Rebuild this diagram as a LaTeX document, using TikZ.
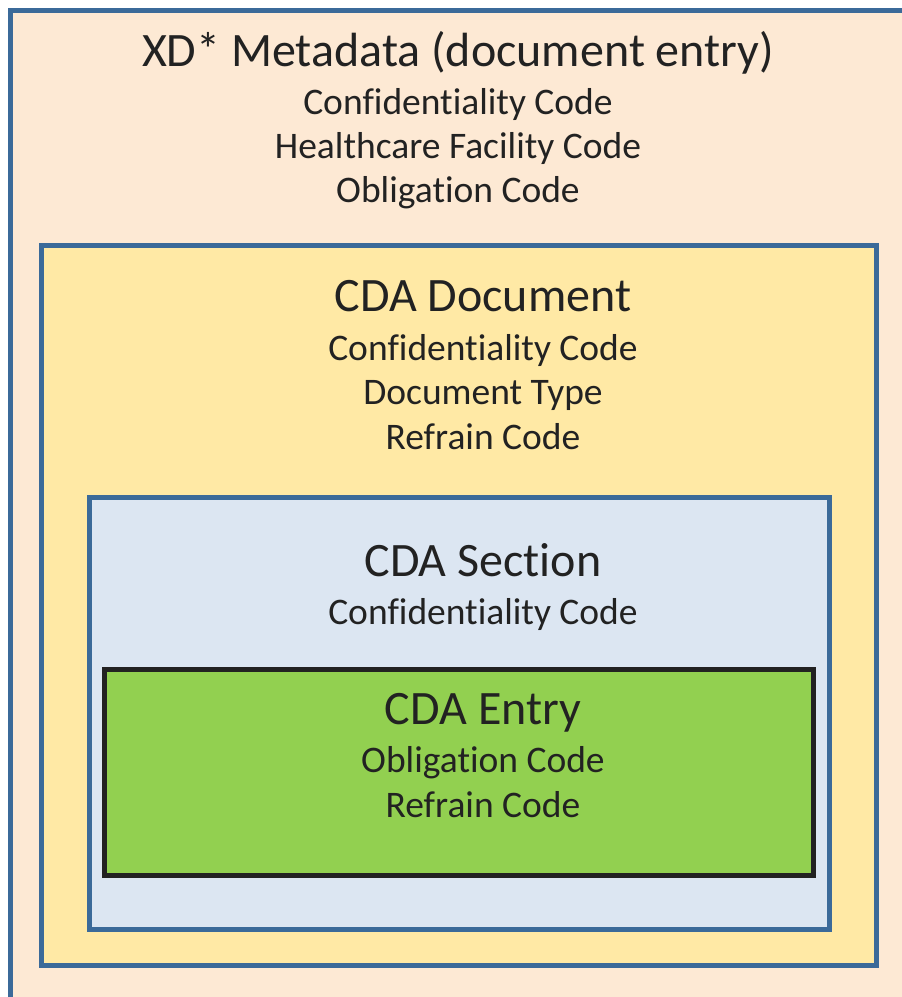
\documentclass[tikz,border=0pt]{standalone}
\usepackage{fontspec}
\setmainfont{Carlito}[Ligatures=NoCommon]
\definecolor{peach}{HTML}{FDE9D4}
\definecolor{ylw}{HTML}{FFE9A5}
\definecolor{lblue}{HTML}{DCE6F2}
\definecolor{grn}{HTML}{92D050}
\definecolor{bord}{HTML}{3B6A99}
\definecolor{txt}{HTML}{222222}
\tikzset{
  boxframe/.style={draw=bord, line width=5pt},
  titletext/.style={anchor=base, text=txt, inner sep=0pt, font=\fontsize{48}{50}\selectfont},
  subtext/.style={anchor=base, text=txt, inner sep=0pt, font=\fontsize{37.5}{40}\selectfont},
}
\begin{document}
\begin{tikzpicture}[x=1pt,y=-1pt]
\useasboundingbox (0,0) rectangle (902,997);
\fill[white] (0,0) rectangle (902,997);
\clip (0,0) rectangle (902,997);
% outer box
\filldraw[boxframe, fill=peach] (10.5,10.5) rectangle (915,1010);
% yellow box
\filldraw[boxframe, fill=ylw] (41.5,245.5) rectangle (876.5,965.5);
% blue box
\filldraw[boxframe, fill=lblue] (89.5,497.5) rectangle (829.5,929.5);
% green box
\filldraw[draw=txt, line width=5pt, fill=grn] (104.5,669.5) rectangle (813.5,875.5);

\node[titletext] (xdt) at (458,66) {XD* Metadata (document entry)};
\node[subtext] (xd1) at (458,114) {Confidentiality Code};
\node[subtext] (xd2) at (458,158) {Healthcare Facility Code};
\node[subtext] (xd3) at (458,202) {Obligation Code};

\node[titletext] (doct) at (483,311) {CDA Document};
\node[subtext] (doc1) at (483,360) {Confidentiality Code};
\node[subtext] (doc2) at (483,404) {Document Type};
\node[subtext] (doc3) at (483,449) {Refrain Code};

\node[titletext] (sect) at (483,576) {CDA Section};
\node[subtext] (sec1) at (483,624) {Confidentiality Code};

\node[titletext] (entt) at (483,724) {CDA Entry};
\node[subtext] (ent1) at (483,772) {Obligation Code};
\node[subtext] (ent2) at (483,817) {Refrain Code};
\end{tikzpicture}
\end{document}
